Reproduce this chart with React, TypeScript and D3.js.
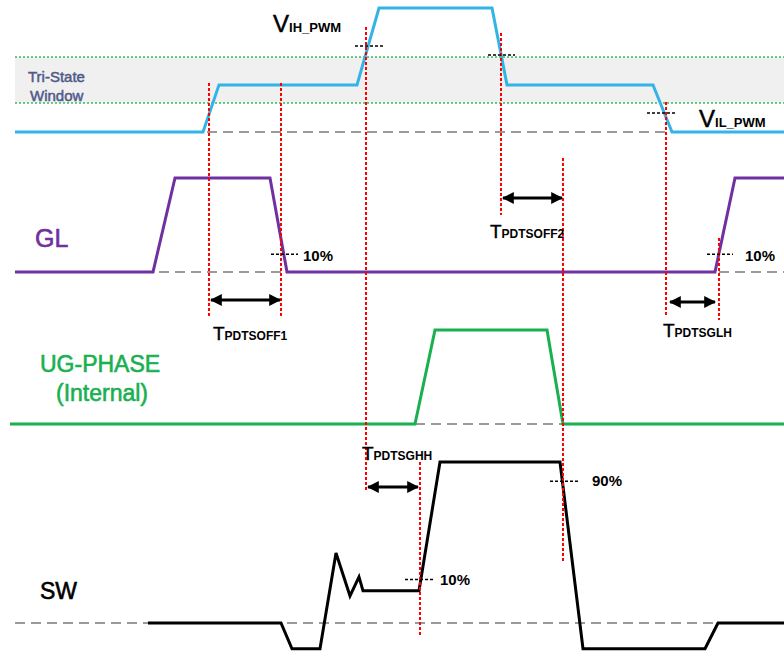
import React from "react";
import * as d3 from "d3";

// ---- data (time axis in diagram units, levels per signal) ----
const pwmTimes = [15, 203, 219, 357, 379, 492, 507, 653, 672, 784];
const pwmLevels = [0, 0, 1.9, 1.9, 5, 5, 1.9, 1.9, 0, 0];
const triStateBounds = [1.17, 3.02];

const glTimes = [15, 153, 175, 270, 287, 715, 735, 784];
const glLevels = [0, 0, 1, 1, 0, 0, 1, 1];

const ugTimes = [10, 415, 435, 547, 563, 784];
const ugLevels = [0, 0, 1, 1, 0, 0];

const swTimes = [148, 281, 292, 320, 336, 350, 359, 363, 419, 440, 560, 583, 705, 718, 784];
const swLevels = [0, 0, -0.16, -0.16, 0.435, 0.168, 0.286, 0.2, 0.2, 1, 1, -0.16, -0.16, 0, 0];

// event marker times (red dotted lines)
const markerTimes = [209, 281, 366, 501, 563, 666, 719, 420];
// measured intervals
const intervalStarts = [211, 503, 670, 368];
const intervalEnds = [280, 562, 715, 418];
const intervalLabels = ["PDTSOFF1", "PDTSOFF2", "PDTSGLH", "PDTSGHH"];

const W = 784;
const H = 654;

export default function App() {
  const x = d3.scaleLinear().domain([0, 784]).range([0, 784]);
  const yPwm = d3.scaleLinear().domain([0, 5]).range([132, 8]);
  const yGl = d3.scaleLinear().domain([0, 1]).range([272, 178]);
  const yUg = d3.scaleLinear().domain([0, 1]).range([424, 330]);
  const ySw = d3.scaleLinear().domain([0, 1]).range([623, 462]);

  const mk = (ts: number[], vs: number[], y: d3.ScaleLinear<number, number>) =>
    d3
      .line<number>()
      .x((_, i) => x(ts[i]))
      .y((v) => y(v))(vs) as string;

  const markerExtents: [number, number][] = [
    [83, 318],
    [83, 318],
    [27, 490],
    [33, 215],
    [158, 563],
    [102, 316],
    [238, 320],
    [462, 635],
  ];
  const intervalY = [300, 198, 302, 487];
  const labelPos: [number, number][] = [
    [213, 340],
    [490, 238],
    [663, 337],
    [362, 460],
  ];

  const thresholds: { x0: number; x1: number; y: number }[] = [
    { x0: 355, x1: 383, y: yPwm(3.47) },
    { x0: 488, x1: 515, y: yPwm(3.1) },
    { x0: 647, x1: 675, y: yPwm(0.77) },
    { x0: 271, x1: 298, y: yGl(0.19) },
    { x0: 707, x1: 733, y: yGl(0.19) },
    { x0: 550, x1: 578, y: ySw(0.88) },
    { x0: 405, x1: 433, y: ySw(0.27) },
  ];

  const font = "'Liberation Sans', Arial, Helvetica, sans-serif";
  const gray = "#9a9a9a";
  const blue = "#33b4e6";
  const purple = "#7030a0";
  const green = "#19b050";

  return (
    <svg
      width={W}
      height={H}
      style={{ position: "absolute", left: 0, top: 0, background: "#fff" }}
      fontFamily={font}
    >
      <defs>
        <marker id="ah" viewBox="0 0 10 10" refX="9" refY="5" markerWidth="4" markerHeight="4" orient="auto-start-reverse">
          <path d="M0,0 L10,5 L0,10 z" fill="#000" />
        </marker>
      </defs>

      {/* tri-state window */}
      <rect
        x={x(15)}
        y={yPwm(triStateBounds[1])}
        width={x(784) - x(15)}
        height={yPwm(triStateBounds[0]) - yPwm(triStateBounds[1])}
        fill="#f0f0f0"
      />
      {triStateBounds.map((b, i) => (
        <line key={i} x1={x(15)} x2={x(784)} y1={yPwm(b)} y2={yPwm(b)} stroke="#3cba54" strokeWidth={1.5} strokeDasharray="2 2" />
      ))}
      <text x={28} y={82} fontSize={15} fill="#4f5b88" stroke="#4f5b88" strokeWidth={0.5}>Tri-State</text>
      <text x={30} y={101} fontSize={15} fill="#4f5b88" stroke="#4f5b88" strokeWidth={0.5}>Window</text>

      {/* baselines */}
      <line x1={x(15)} x2={x(784)} y1={yPwm(0)} y2={yPwm(0)} stroke={gray} strokeWidth={2} strokeDasharray="10 6" />
      <line x1={x(15)} x2={x(784)} y1={yGl(0)} y2={yGl(0)} stroke={gray} strokeWidth={2} strokeDasharray="10 6" />
      <line x1={x(15)} x2={x(784)} y1={yUg(0)} y2={yUg(0)} stroke={gray} strokeWidth={2} strokeDasharray="10 6" />
      <line x1={x(15)} x2={x(784)} y1={ySw(0)} y2={ySw(0)} stroke={gray} strokeWidth={2} strokeDasharray="10 6" />

      {/* signals */}
      <path d={mk(pwmTimes, pwmLevels, yPwm)} fill="none" stroke={blue} strokeWidth={3} />
      <path d={mk(glTimes, glLevels, yGl)} fill="none" stroke={purple} strokeWidth={3} />
      <path d={mk(ugTimes, ugLevels, yUg)} fill="none" stroke={green} strokeWidth={3} />
      <path d={mk(swTimes, swLevels, ySw)} fill="none" stroke="#000" strokeWidth={3} />

      {/* red marker lines */}
      {markerTimes.map((t, i) => (
        <line key={i} x1={x(t)} x2={x(t)} y1={markerExtents[i][0]} y2={markerExtents[i][1]} stroke="#ff0000" strokeWidth={2} strokeDasharray="3 2" />
      ))}

      {/* threshold markers */}
      {thresholds.map((d, i) => (
        <line key={i} x1={d.x0} x2={d.x1} y1={d.y} y2={d.y} stroke="#000" strokeWidth={1.5} strokeDasharray="3 2" />
      ))}

      {/* interval arrows */}
      {intervalStarts.map((s, i) => (
        <g key={i}>
          <line
            x1={x(s)}
            x2={x(intervalEnds[i])}
            y1={intervalY[i]}
            y2={intervalY[i]}
            stroke="#000"
            strokeWidth={3}
            markerStart="url(#ah)"
            markerEnd="url(#ah)"
          />
          <text x={labelPos[i][0]} y={labelPos[i][1]} fill="#000">
            <tspan fontSize={19} stroke="#000" strokeWidth={0.4}>T</tspan>
            <tspan fontSize={12} fontWeight="bold">{intervalLabels[i]}</tspan>
          </text>
        </g>
      ))}

      {/* threshold labels */}
      <text x={273} y={32} fill="#000">
        <tspan fontSize={24} stroke="#000" strokeWidth={0.5}>V</tspan>
        <tspan fontSize={13} fontWeight="bold">IH_PWM</tspan>
      </text>
      <text x={699} y={127} fill="#000">
        <tspan fontSize={24} stroke="#000" strokeWidth={0.5}>V</tspan>
        <tspan fontSize={13} fontWeight="bold">IL_PWM</tspan>
      </text>
      <text x={303} y={261} fontSize={15} fontWeight="bold">10%</text>
      <text x={745} y={261} fontSize={15} fontWeight="bold">10%</text>
      <text x={592} y={486} fontSize={15} fontWeight="bold">90%</text>
      <text x={440} y={585} fontSize={15} fontWeight="bold">10%</text>

      {/* signal names */}
      <text x={35} y={247} fontSize={25} fill={purple} stroke={purple} strokeWidth={0.6}>GL</text>
      <text x={40} y={372} fontSize={23} fill={green} stroke={green} strokeWidth={0.6}>UG-PHASE</text>
      <text x={102} y={401} fontSize={23} fill={green} stroke={green} strokeWidth={0.6} textAnchor="middle">(Internal)</text>
      <text x={40} y={599} fontSize={23} fill="#000" stroke="#000" strokeWidth={0.6}>SW</text>
    </svg>
  );
}
